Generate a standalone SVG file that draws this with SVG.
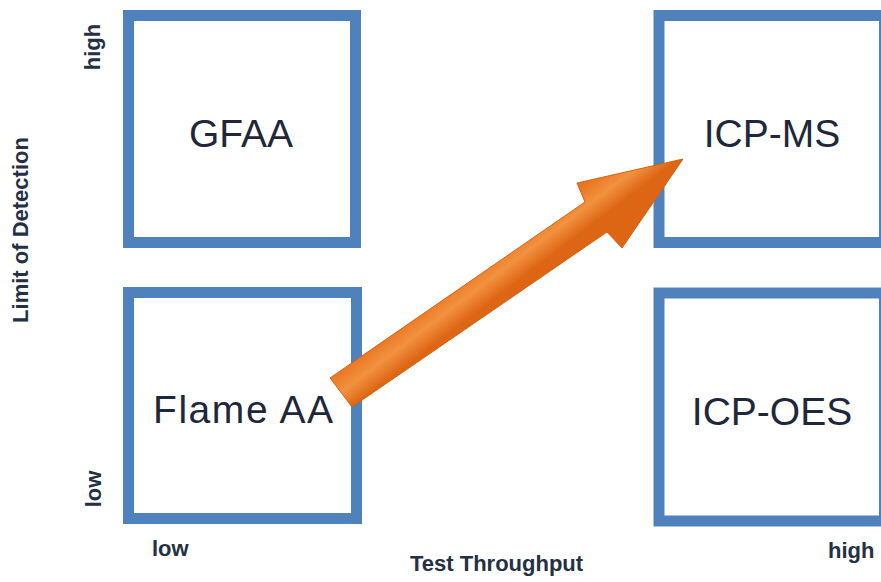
<svg xmlns="http://www.w3.org/2000/svg" width="881" height="582" viewBox="0 0 881 582">
  <defs>
    <style>
      .box { fill: #ffffff; stroke: #4f81bd; stroke-width: 11; }
      .name { font-family: "Liberation Sans", Arial, sans-serif; font-size: 39px; fill: #1f283a; text-anchor: middle; }
      .axis { font-family: "Liberation Sans", Arial, sans-serif; font-size: 22px; font-weight: bold; fill: #243044; }
    </style>
    <linearGradient id="arrowGrad" gradientUnits="userSpaceOnUse" x1="330" y1="378" x2="352" y2="407">
      <stop offset="0" stop-color="#ea7522"/>
      <stop offset="0.5" stop-color="#f2923f"/>
      <stop offset="1" stop-color="#dd6614"/>
    </linearGradient>
  </defs>
  <rect width="881" height="582" fill="#ffffff"/>

  <g id="axes">
    <text class="axis" transform="translate(28,230) rotate(-90)" text-anchor="middle">Limit of Detection</text>
    <text class="axis" transform="translate(100,47) rotate(-90)" text-anchor="middle">high</text>
    <text class="axis" transform="translate(101,489) rotate(-90)" text-anchor="middle">low</text>
    <text class="axis" x="152" y="556">low</text>
    <text class="axis" x="410" y="571">Test Throughput</text>
    <text class="axis" x="828" y="558">high</text>
  </g>

  <g id="node-gfaa">
    <rect class="box" x="128.5" y="15.5" width="227" height="227"/>
    <text class="name" x="241" y="147">GFAA</text>
  </g>
  <g id="node-flame-aa">
    <rect class="box" x="128.5" y="292.5" width="228" height="226"/>
    <text class="name" x="243" y="423" textLength="180" lengthAdjust="spacing">Flame AA</text>
  </g>
  <g id="node-icp-ms">
    <rect class="box" x="659" y="15.5" width="225.5" height="227"/>
    <text class="name" x="772" y="147">ICP-MS</text>
  </g>
  <g id="node-icp-oes">
    <rect class="box" x="659" y="293" width="225.5" height="228"/>
    <text class="name" x="772" y="425">ICP-OES</text>
  </g>

  <g id="connectors">
    <polygon points="330,378 585,202 577,183 683,159 622,248 607,232 352,407" fill="url(#arrowGrad)" stroke="#d5630f" stroke-width="1"/>
  </g>
</svg>
